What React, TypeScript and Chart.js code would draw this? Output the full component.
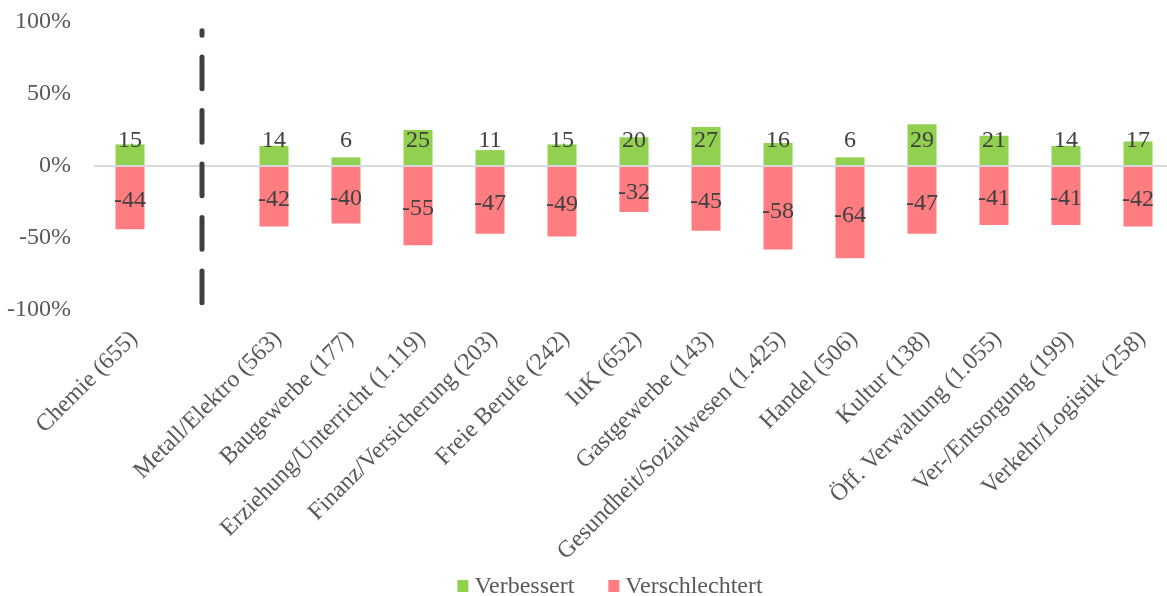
import React, { useEffect, useRef } from 'react';
import { Chart, registerables } from 'chart.js';

Chart.register(...registerables);

const FONT = "'Liberation Serif', 'Times New Roman', serif";

const categories = [
  'Chemie (655)',
  '',
  'Metall/Elektro (563)',
  'Baugewerbe (177)',
  'Erziehung/Unterricht (1.119)',
  'Finanz/Versicherung (203)',
  'Freie Berufe (242)',
  'IuK (652)',
  'Gastgewerbe (143)',
  'Gesundheit/Sozialwesen (1.425)',
  'Handel (506)',
  'Kultur (138)',
  'Öff. Verwaltung (1.055)',
  'Ver-/Entsorgung (199)',
  'Verkehr/Logistik (258)',
];

const verbessert = [15, null, 14, 6, 25, 11, 15, 20, 27, 16, 6, 29, 21, 14, 17];
const verschlechtert = [-44, null, -42, -40, -55, -47, -49, -32, -45, -58, -64, -47, -41, -41, -42];

const yTickValues = [-100, -50, 0, 50, 100];
const seriesNames = ['Verbessert', 'Verschlechtert'];
const seriesColors = ['#92D050', '#FF7C80'];

// divider between first category and the rest (index of the empty slot)
const dividerIndex = 1;
const dividerTop = 94;
const dividerBottom = -95;
const positiveLabelLevel = 17.3;

const valueLabelPlugin = {
  id: 'valueLabels',
  afterDatasetsDraw(chart: any) {
    const ctx = chart.ctx;
    const yScale = chart.scales.y;
    ctx.save();
    ctx.font = `24px ${FONT}`;
    ctx.fillStyle = '#404040';
    ctx.textAlign = 'center';
    ctx.textBaseline = 'middle';
    chart.data.datasets.forEach((ds: any, di: number) => {
      const meta = chart.getDatasetMeta(di);
      meta.data.forEach((bar: any, i: number) => {
        const v = ds.data[i];
        if (v === null || v === undefined) return;
        let yy;
        if (v >= 0) yy = yScale.getPixelForValue(positiveLabelLevel);
        else yy = (bar.y + bar.base) / 2 + 3;
        ctx.fillText(String(v), bar.x, yy);
      });
    });
    ctx.restore();
  },
};

const dividerPlugin = {
  id: 'divider',
  afterDatasetsDraw(chart: any) {
    const ctx = chart.ctx;
    const x = chart.scales.x.getPixelForValue(dividerIndex);
    const y0 = chart.scales.y.getPixelForValue(dividerBottom);
    const y1 = chart.scales.y.getPixelForValue(dividerTop);
    ctx.save();
    ctx.strokeStyle = '#3F3F3F';
    ctx.lineWidth = 5;
    ctx.lineCap = 'round';
    ctx.setLineDash([31.7, 21.8]);
    ctx.beginPath();
    ctx.moveTo(x, y0);
    ctx.lineTo(x, y1);
    ctx.stroke();
    ctx.restore();
  },
};

const legendPlugin = {
  id: 'customLegend',
  afterDraw(chart: any) {
    const ctx = chart.ctx;
    ctx.save();
    ctx.font = `24px ${FONT}`;
    ctx.textBaseline = 'middle';
    ctx.textAlign = 'left';
    const box = 11;
    const gap = 6;
    const spacing = 34;
    const widths = seriesNames.map((n) => box + gap + ctx.measureText(n).width);
    const total = widths.reduce((a, b) => a + b, 0) + spacing * (seriesNames.length - 1);
    const centerX = 610;
    const cy = 587;
    let x = centerX - total / 2;
    seriesNames.forEach((n, i) => {
      ctx.fillStyle = seriesColors[i];
      ctx.fillRect(x, cy - 7, box, 12);
      ctx.fillStyle = '#595959';
      ctx.fillText(n, x + box + gap, cy);
      x += widths[i] + spacing;
    });
    ctx.restore();
  },
};

export default function App() {
  const ref = useRef<HTMLCanvasElement | null>(null);

  useEffect(() => {
    if (!ref.current) return;
    const chart = new Chart(ref.current, {
      type: 'bar',
      data: {
        labels: categories,
        datasets: [
          {
            label: seriesNames[0],
            data: verbessert,
            backgroundColor: seriesColors[0],
            borderWidth: 0,
            barPercentage: 29 / 72,
            categoryPercentage: 1,
          },
          {
            label: seriesNames[1],
            data: verschlechtert,
            backgroundColor: seriesColors[1],
            borderWidth: 0,
            barPercentage: 29 / 72,
            categoryPercentage: 1,
          },
        ],
      },
      options: {
        responsive: false,
        animation: false,
        layout: { padding: { left: 7, right: 0, top: 22, bottom: 30 } },
        plugins: {
          legend: { display: false },
          tooltip: { enabled: false },
        },
        scales: {
          x: {
            stacked: true,
            offset: true,
            grid: { display: false, drawTicks: false },
            border: { display: false },
            afterFit: (scale: any) => {
              scale.height = 256;
              scale.paddingLeft = 0;
              scale.paddingRight = 0;
              scale.paddingTop = 0;
              scale.paddingBottom = 0;
            },
            ticks: {
              autoSkip: false,
              minRotation: 45,
              maxRotation: 45,
              padding: 15,
              labelOffset: 4,
              color: '#595959',
              font: { family: FONT, size: 24 },
            },
          },
          y: {
            stacked: true,
            min: -100,
            max: 100,
            afterBuildTicks: (scale: any) => {
              scale.ticks = yTickValues.map((v) => ({ value: v }));
            },
            afterFit: (scale: any) => {
              scale.width = 87;
              scale.paddingTop = 0;
              scale.paddingBottom = 0;
            },
            grid: {
              color: (c: any) => (c.tick && c.tick.value === 0 ? '#D9D9D9' : 'rgba(0,0,0,0)'),
              lineWidth: 2,
              drawTicks: false,
            },
            border: { display: false },
            ticks: {
              padding: 23,
              color: '#595959',
              font: { family: FONT, size: 24 },
              callback: (v: any) => `${v}%`,
            },
          },
        },
      },
      plugins: [valueLabelPlugin, dividerPlugin, legendPlugin],
    });
    return () => chart.destroy();
  }, []);

  return (
    <div
      style={{
        position: 'fixed',
        left: 0,
        top: 0,
        width: 1167,
        height: 596,
        overflow: 'hidden',
        background: '#ffffff',
      }}
    >
      <canvas ref={ref} width={1174} height={596} style={{ display: 'block' }} />
    </div>
  );
}
